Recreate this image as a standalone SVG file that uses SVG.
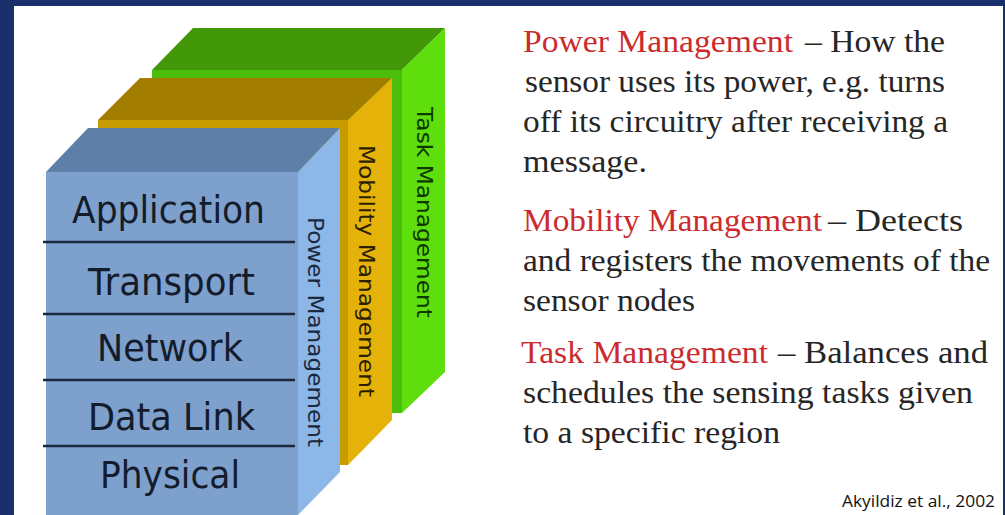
<svg xmlns="http://www.w3.org/2000/svg" width="1005" height="515" viewBox="0 0 1005 515">
<style>
.lbl{font-family:"DejaVu Sans","Verdana",sans-serif;font-size:37px;fill:#141c2b;text-anchor:start}
.vl{font-family:"DejaVu Sans","Verdana",sans-serif;font-size:21.5px}
.sep{stroke:#1b283b;stroke-width:2.5}
.desc{font-family:"Liberation Serif","Times New Roman",serif;font-size:31px;fill:#262626}
.red{fill:#cc2b2d}
.cite{font-family:"Open Sans","Liberation Sans",sans-serif;font-size:17px;fill:#111}
</style>
<rect x="0" y="0" width="1005" height="515" fill="#ffffff"/>
<g id="frame" fill="#182f6c">
<rect x="0" y="0" width="1005" height="6"/>
<rect x="0" y="0" width="14" height="515"/>
<rect x="1003" y="0" width="2" height="515"/>
</g>

<g id="task-management">
<polygon points="152,70 193,28 445,28 402,70" fill="#43980a"/>
<rect x="152" y="70" width="250" height="343" fill="#4cbd0b"/>
<polygon points="402,70 445,28 445,372 402,413" fill="#5ede0c"/>
<text class="vl" fill="#0f3800" transform="translate(417,107) rotate(90)" textLength="211" lengthAdjust="spacingAndGlyphs">Task Management</text>
</g>

<g id="mobility-management">
<polygon points="98,120 140,78 392,78 348,120" fill="#a27d00"/>
<rect x="98" y="120" width="250" height="345" fill="#c79c00"/>
<polygon points="348,120 392,78 392,420 348,465" fill="#e5b20a"/>
<text class="vl" fill="#2a1f00" transform="translate(359,145) rotate(90)" textLength="252" lengthAdjust="spacingAndGlyphs">Mobility Management</text>
</g>

<g id="power-management">
<polygon points="46,172 88,128 340,128 298,172" fill="#5e7fa7"/>
<rect x="46" y="172" width="252" height="343" fill="#7da0cc"/>
<polygon points="298,172 340,128 340,472 298,515" fill="#8db7e7"/>
<text class="vl" fill="#1b2940" transform="translate(308,217) rotate(90)" textLength="230" lengthAdjust="spacingAndGlyphs">Power Management</text>
</g>

<g id="layers">
<line class="sep" x1="43" y1="242" x2="295" y2="242"/>
<line class="sep" x1="43" y1="314" x2="295" y2="314"/>
<line class="sep" x1="43" y1="380" x2="295" y2="380"/>
<line class="sep" x1="43" y1="446" x2="295" y2="446"/>
<g id="layer-application"><text class="lbl" x="72" y="223" textLength="193" lengthAdjust="spacingAndGlyphs">Application</text></g>
<g id="layer-transport"><text class="lbl" x="88" y="295" textLength="167" lengthAdjust="spacingAndGlyphs">Transport</text></g>
<g id="layer-network"><text class="lbl" x="97" y="361" textLength="146" lengthAdjust="spacingAndGlyphs">Network</text></g>
<g id="layer-datalink"><text class="lbl" x="88" y="430" textLength="167" lengthAdjust="spacingAndGlyphs">Data Link</text></g>
<g id="layer-physical"><text class="lbl" x="100" y="488" textLength="140" lengthAdjust="spacingAndGlyphs">Physical</text></g>
</g>

<g id="desc-power">
<text class="desc red" x="523" y="52" textLength="270" lengthAdjust="spacingAndGlyphs">Power Management</text>
<text class="desc" x="805" y="52" textLength="140" lengthAdjust="spacingAndGlyphs">– How the</text>
<text class="desc" x="525" y="92" textLength="420" lengthAdjust="spacingAndGlyphs">sensor uses its power, e.g. turns</text>
<text class="desc" x="523" y="132" textLength="425" lengthAdjust="spacingAndGlyphs">off its circuitry after receiving a</text>
<text class="desc" x="523" y="172" textLength="124" lengthAdjust="spacingAndGlyphs">message.</text>
</g>
<g id="desc-mobility">
<text class="desc red" x="523" y="231" textLength="299" lengthAdjust="spacingAndGlyphs">Mobility Management</text>
<text class="desc" x="828" y="231" textLength="135" lengthAdjust="spacingAndGlyphs">– Detects</text>
<text class="desc" x="523" y="271" textLength="467" lengthAdjust="spacingAndGlyphs">and registers the movements of the</text>
<text class="desc" x="523" y="311" textLength="172" lengthAdjust="spacingAndGlyphs">sensor nodes</text>
</g>
<g id="desc-task">
<text class="desc red" x="521" y="363" textLength="247" lengthAdjust="spacingAndGlyphs">Task Management</text>
<text class="desc" x="778" y="363" textLength="210" lengthAdjust="spacingAndGlyphs">– Balances and</text>
<text class="desc" x="523" y="403" textLength="450" lengthAdjust="spacingAndGlyphs">schedules the sensing tasks given</text>
<text class="desc" x="523" y="443" textLength="257" lengthAdjust="spacingAndGlyphs">to a specific region</text>
</g>
<g id="citation">
<text class="cite" x="842" y="507" textLength="153" lengthAdjust="spacingAndGlyphs">Akyildiz et al., 2002</text>
</g>
</svg>
